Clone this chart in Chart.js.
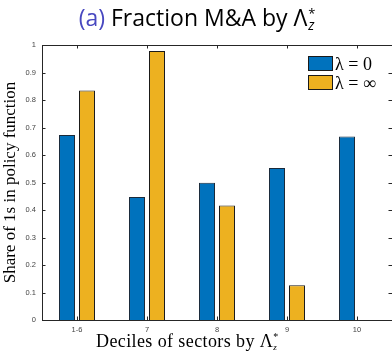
<!DOCTYPE html>
<html>
<head>
<meta charset="utf-8">
<script src="https://cdn.jsdelivr.net/npm/chart.js@4/dist/chart.umd.min.js"></script>
<style>
  html, body { margin: 0; padding: 0; background: #fff; }
  #wrap { position: relative; width: 392px; height: 351px; }
</style>
</head>
<body>
<div id="wrap"><canvas id="c" width="392" height="351"></canvas></div>
<script>
const deciles = ["1-6", "7", "8", "9", "10"];
const lambdaZero = [0.673, 0.447, 0.499, 0.553, 0.667];
const lambdaInf = [0.835, 0.978, 0.416, 0.126, 0];
const seriesNames = ["\u03bb = 0", "\u03bb = \u221e"];
const yTicks = [0, 0.1, 0.2, 0.3, 0.4, 0.5, 0.6, 0.7, 0.8, 0.9, 1];

const blue = "#0072BD";
const yellow = "#EDB120";
const serif = "'Liberation Serif', 'Times New Roman', serif";
const sans = "'Open Sans', Lato, sans-serif";

// frame, inward ticks, title, x label and legend
const decor = {
  id: "decor",
  afterDraw(chart) {
    const ctx = chart.ctx;
    const a = chart.chartArea;
    const x = chart.scales.x, y = chart.scales.y;
    ctx.save();
    ctx.strokeStyle = "#262626";
    ctx.lineWidth = 1;
    ctx.beginPath();
    ctx.moveTo(a.left + 0.5, a.bottom + 0.5);
    ctx.lineTo(a.left + 0.5, a.top + 0.5);
    ctx.lineTo(a.right, a.top + 0.5);
    ctx.moveTo(a.left, a.bottom + 0.5);
    ctx.lineTo(a.right, a.bottom + 0.5);
    yTicks.forEach(v => {
      const py = Math.round(y.getPixelForValue(v)) + 0.5;
      ctx.moveTo(a.left, py); ctx.lineTo(a.left + 3.5, py);
      ctx.moveTo(a.right, py); ctx.lineTo(a.right - 3.5, py);
    });
    deciles.forEach((d, i) => {
      const px = Math.round(x.getPixelForValue(i)) + 0.5;
      ctx.moveTo(px, a.bottom); ctx.lineTo(px, a.bottom - 3.5);
      ctx.moveTo(px, a.top); ctx.lineTo(px, a.top + 3.5);
    });
    ctx.stroke();

    // title
    ctx.textBaseline = "alphabetic";
    ctx.font = "23px " + sans;
    const t1 = "(a)", t2 = " Fraction M&A by \u039b";
    const w1 = ctx.measureText(t1).width, w2 = ctx.measureText(t2).width;
    let tx = 198 - (w1 + w2 + 10) / 2;
    ctx.fillStyle = "#4848c0";
    ctx.fillText(t1, tx, 26);
    ctx.fillStyle = "#000";
    ctx.fillText(t2, tx + w1, 26);
    tx += w1 + w2;
    ctx.font = "13px " + sans;
    ctx.fillText("*", tx + 1, 18);
    ctx.font = "italic 14px " + sans;
    ctx.fillText("z", tx + 1, 30);

    // x label
    ctx.font = "18px " + serif;
    ctx.letterSpacing = "0.4px";
    const xl = "Deciles of sectors by \u039b";
    const wx = ctx.measureText(xl).width;
    const lx = 96;
    ctx.fillText(xl, lx, 347);
    ctx.letterSpacing = "0px";
    ctx.font = "10px " + serif;
    ctx.fillText("*", lx + wx, 340);
    ctx.font = "italic 9px " + serif;
    ctx.fillText("z", lx + wx, 350);

    // legend
    const cols = [blue, yellow];
    seriesNames.forEach((n, i) => {
      const sy = 56 + i * 19;
      ctx.fillStyle = cols[i];
      ctx.fillRect(308, sy, 25, 15);
      ctx.strokeStyle = "#1a1a1a";
      ctx.strokeRect(308.5, sy + 0.5, 24, 14);
      ctx.fillStyle = "#000";
      ctx.font = "18px " + serif;
      ctx.fillText(n, 335, sy + 14);
    });
    ctx.restore();
  }
};

new Chart(document.getElementById("c"), {
  type: "bar",
  data: {
    labels: deciles,
    datasets: [
      { label: seriesNames[0], data: lambdaZero, backgroundColor: blue, borderColor: "#1a2a3a", borderWidth: 1 },
      { label: seriesNames[1], data: lambdaInf, backgroundColor: yellow, borderColor: "#1a1a1a", borderWidth: 1 }
    ]
  },
  options: {
    responsive: false,
    animation: false,
    categoryPercentage: 0.571,
    barPercentage: 0.8,
    layout: { padding: { top: 45, right: 0, left: 0, bottom: 0 } },
    plugins: { legend: { display: false }, tooltip: { enabled: false } },
    scales: {
      x: {
        grid: { display: false, drawTicks: false },
        border: { display: false },
        ticks: { color: "#444", font: { size: 7.5, family: "'Liberation Sans', Arial, sans-serif" }, padding: 5 },
        afterFit(s) { s.height = 31; }
      },
      y: {
        min: 0, max: 1,
        afterBuildTicks(s) { s.ticks = yTicks.map(v => ({ value: v })); },
        grid: { display: false, drawTicks: false },
        border: { display: false },
        ticks: {
          color: "#444", font: { size: 7.5, family: "'Liberation Sans', Arial, sans-serif" }, padding: 6,
          callback: v => String(+v.toFixed(1))
        },
        title: { display: true, text: "Share of 1s in policy function", font: { size: 17, family: serif }, color: "#000", padding: { top: 0, bottom: 4 } },
        afterFit(s) { s.width = 42; }
      }
    }
  },
  plugins: [decor]
});
</script>
</body>
</html>
